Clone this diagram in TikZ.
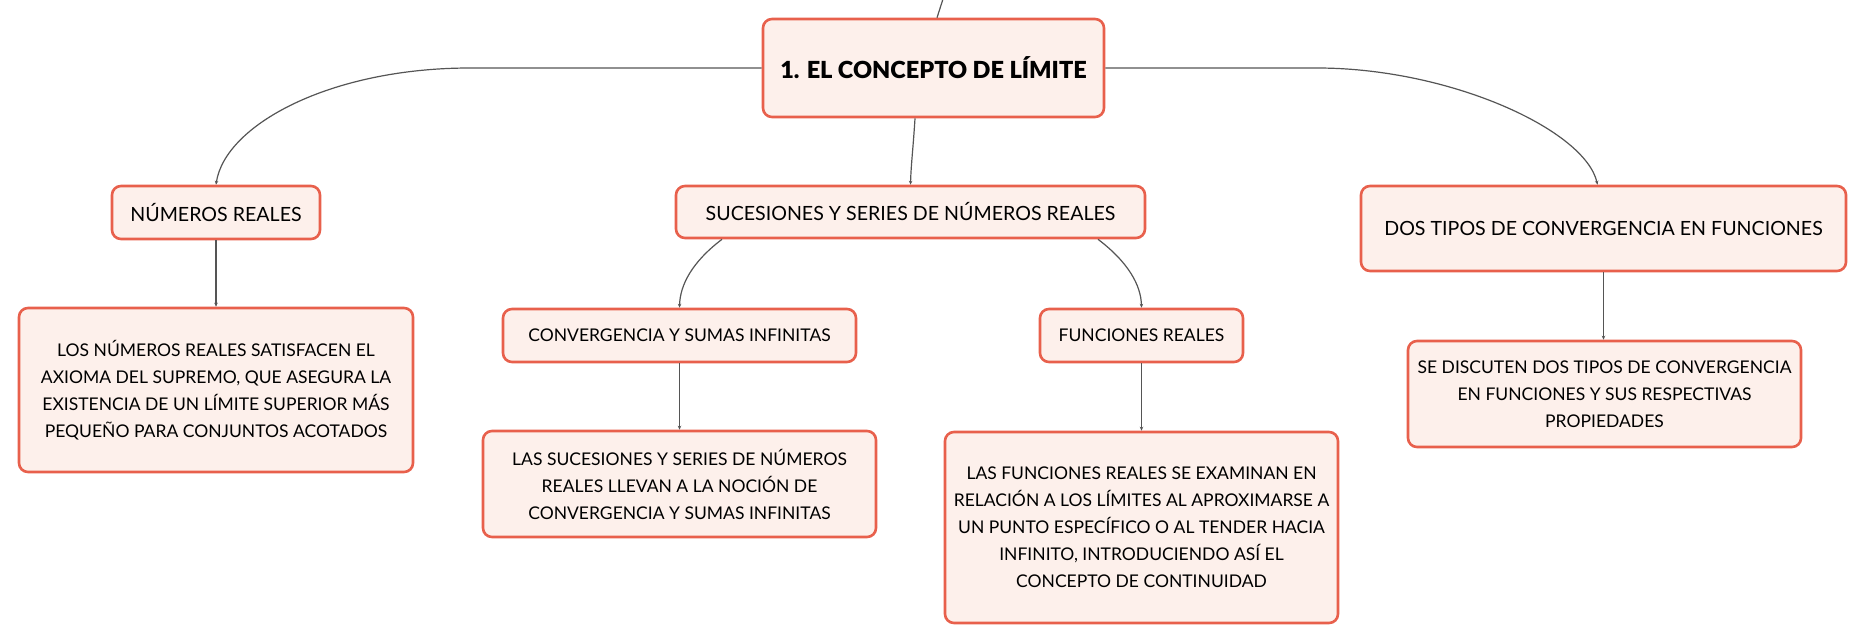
\documentclass[tikz,border=0pt]{standalone}
\usepackage{fontspec}
\setmainfont{Lato}
\IfFontExistsTF{Lato Black}{\newfontfamily\rootfont{Lato Black}}{\newcommand\rootfont{\bfseries}}
\usetikzlibrary{arrows.meta}
\definecolor{boxline}{HTML}{E8604C}
\definecolor{boxfill}{HTML}{FDF0EB}
\definecolor{conn}{HTML}{555555}
\tikzset{
  box/.style={draw=boxline, fill=boxfill, line width=2.6pt, rounded corners=9pt,
    inner sep=0pt, align=center, font=\fontsize{17.5}{27}\selectfont, text=black},
  topicbox/.style={box, font=\fontsize{19.6}{27}\selectfont},
  rootbox/.style={box, font=\fontsize{23.5}{28}\selectfont\rootfont},
  link/.style={draw=conn, line width=1.2pt},
  tiplink/.style={link, -{Stealth[length=4pt,width=3.5pt]}},
}
\begin{document}
\begin{tikzpicture}[x=1pt,y=-1pt]
\useasboundingbox (0,0) rectangle (1867,643);
\node[rootbox, minimum width=341pt, minimum height=98pt] (root) at (933.5,68) {1. EL CONCEPTO DE LÍMITE};
\node[topicbox, minimum width=208pt, minimum height=53pt] (num) at (216,212.5) {NÚMEROS REALES};
\node[topicbox, minimum width=469pt, minimum height=52pt] (suc) at (910.5,212) {SUCESIONES Y SERIES DE NÚMEROS REALES};
\node[topicbox, minimum width=485pt, minimum height=85pt] (dos) at (1603.5,228.5) {DOS TIPOS DE CONVERGENCIA EN FUNCIONES};
\node[box, minimum width=394pt, minimum height=164pt] (numd) at (216,390) {LOS NÚMEROS REALES SATISFACEN EL\\AXIOMA DEL SUPREMO, QUE ASEGURA LA\\EXISTENCIA DE UN LÍMITE SUPERIOR MÁS\\PEQUEÑO PARA CONJUNTOS ACOTADOS};
\node[box, minimum width=353pt, minimum height=53pt] (conv) at (679.5,335.5) {CONVERGENCIA Y SUMAS INFINITAS};
\node[box, minimum width=203pt, minimum height=53pt] (func) at (1141.5,335.5) {FUNCIONES REALES};
\node[box, minimum width=393pt, minimum height=106pt] (convd) at (679.5,484) {LAS SUCESIONES Y SERIES DE NÚMEROS\\REALES LLEVAN A LA NOCIÓN DE\\CONVERGENCIA Y SUMAS INFINITAS};
\node[box, minimum width=393pt, minimum height=191pt] (funcd) at (1141.5,527.5) {LAS FUNCIONES REALES SE EXAMINAN EN\\RELACIÓN A LOS LÍMITES AL APROXIMARSE A\\UN PUNTO ESPECÍFICO O AL TENDER HACIA\\INFINITO, INTRODUCIENDO ASÍ EL\\CONCEPTO DE CONTINUIDAD};
\node[box, minimum width=393pt, minimum height=106pt] (dosd) at (1604.5,394) {SE DISCUTEN DOS TIPOS DE CONVERGENCIA\\EN FUNCIONES Y SUS RESPECTIVAS\\PROPIEDADES};
% connectors
\coordinate (top) at (943,-1);
\draw[link] (top) .. controls (940,8) .. ([xshift=3.5pt]root.north);
\draw[tiplink] (root.west) -- (470,68) .. controls (330,68) and (225,125) .. (num.north);
\draw[tiplink] (root.east) -- (1317,68) .. controls (1450,68) and (1585,130) .. ([xshift=-6pt]dos.north);
\draw[tiplink] ([xshift=-18.5pt]root.south) .. controls (913,150) and (911,165) .. (suc.north);
\draw[tiplink] ([xshift=-188.5pt]suc.south) .. controls (692,262) and (680,285) .. (conv.north);
\draw[tiplink] ([xshift=187.5pt]suc.south) .. controls (1128,262) and (1141,285) .. (func.north);
\draw[tiplink] (num.south) -- (numd.north);
\draw[tiplink] (conv.south) -- (convd.north);
\draw[tiplink] (func.south) -- (funcd.north);
\draw[tiplink] (dos.south) -- (dosd.north -| dos.south);
\end{tikzpicture}
\end{document}
